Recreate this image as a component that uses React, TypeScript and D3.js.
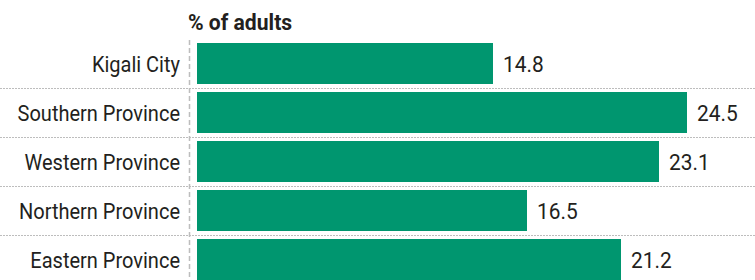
import React from 'react';
import * as d3 from 'd3';

const regions = ['Kigali City', 'Southern Province', 'Western Province', 'Northern Province', 'Eastern Province'];
const shares = [14.8, 24.5, 23.1, 16.5, 21.2];

const W = 755;
const H = 280;
const FONT = 'Roboto, "Liberation Sans", sans-serif';

const App: React.FC = () => {
  const x = d3.scaleLinear().domain([0, 25]).range([197, 697]);
  const y = d3.scaleBand().domain(regions).range([40, 40 + 49 * regions.length]).padding(0);
  const step = y.step();

  return (
    <div style={{ position: 'fixed', left: 0, top: 0, background: '#fff' }}>
      <svg width={W} height={H} viewBox={`0 0 ${W} ${H}`} style={{ display: 'block' }}>
        <rect width={W} height={H} fill="#fff" />
        <text transform="translate(188,30) scale(0.96,1)" fontFamily={FONT} fontWeight="bold" fontSize={22} fill="#231f20">
          % of adults
        </text>
        {/* row separators */}
        {regions.slice(0, -1).map((r) => (
          <line key={'sep' + r} x1={0} x2={W} y1={(y(r) || 0) + step - 0.5} y2={(y(r) || 0) + step - 0.5}
            stroke="#bdbdbd" strokeWidth={1} strokeDasharray="2 1" />
        ))}
        {/* baseline */}
        <line x1={189.5} x2={189.5} y1={40} y2={H} stroke="#bdbdbd" strokeWidth={1.5} strokeDasharray="5 3" />
        {regions.map((r, i) => {
          const top = (y(r) || 0) + 3;
          const mid = top + 20.5;
          return (
            <g key={r}>
              <rect x={x(0)} y={top} width={x(shares[i]) - x(0)} height={41} fill="#00966f" />
              <text transform={`translate(180,${mid + 8}) scale(0.91,1)`} textAnchor="end"
                fontFamily={FONT} fontSize={22} fill="#231f20">{r}</text>
              <text transform={`translate(${x(shares[i]) + 10},${mid + 8}) scale(0.95,1)`}
                fontFamily={FONT} fontSize={22} fill="#231f20">
                {shares[i].toFixed(1)}
              </text>
            </g>
          );
        })}
      </svg>
    </div>
  );
};

export default App;
